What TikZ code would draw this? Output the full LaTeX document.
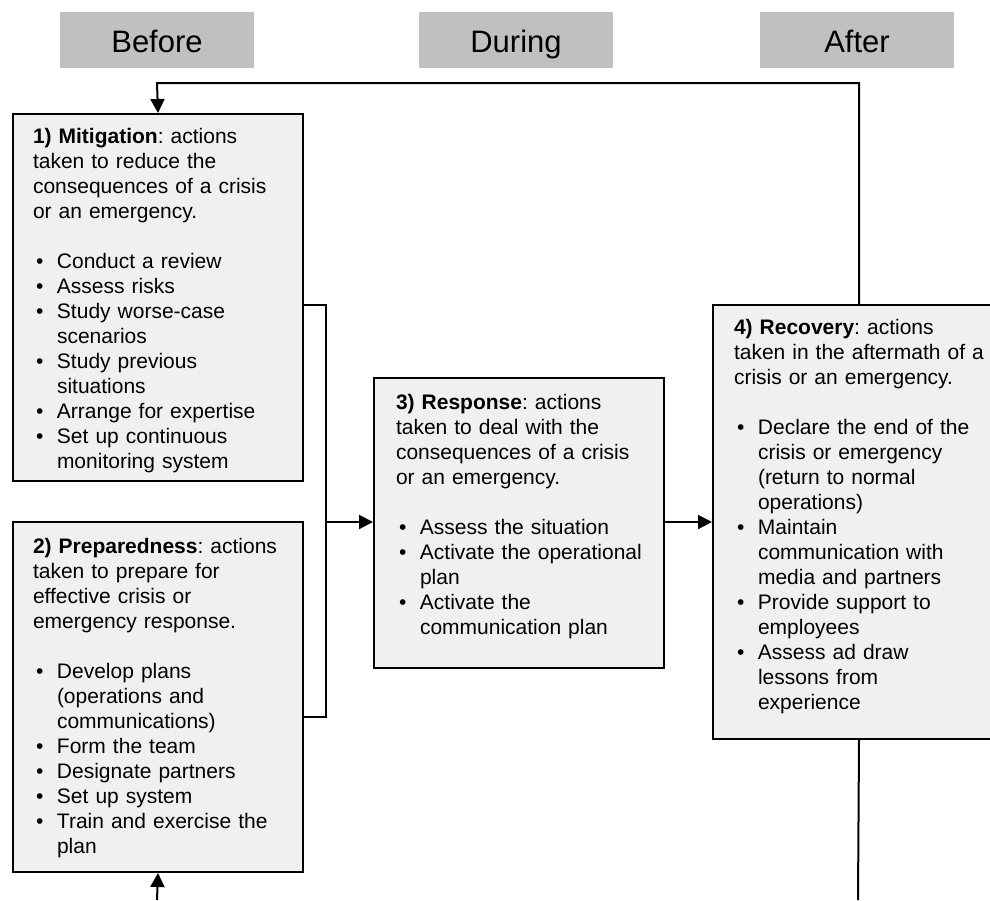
\documentclass[tikz,border=0pt]{standalone}
\usepackage{fontspec}
\setmainfont{Liberation Sans}
\usetikzlibrary{arrows.meta}
\definecolor{headgray}{RGB}{192,192,192}
\definecolor{boxgray}{RGB}{240,240,240}
\newcommand{\bul}{\makebox[12pt][l]{\hspace{1.5pt}\textbullet}}
\newcommand{\cont}{\hspace*{12pt}}
\frenchspacing

\begin{document}
\begin{tikzpicture}[x=0.5pt, y=-0.5pt,
    font=\fontsize{10.5pt}{12.5pt}\selectfont,
    phase/.style={fill=headgray, inner sep=0pt, minimum width=97pt, minimum height=28pt,
        text height=13pt, text depth=1pt, font=\fontsize{15.5pt}{18pt}\selectfont},
    stage/.style={draw, line width=1pt, fill=boxgray, anchor=north west, text width=125pt,
        align=left, inner xsep=10pt, inner ysep=0pt},
    link/.style={line width=1pt},
    flow/.style={link, -{Triangle[length=7pt,width=7pt]}}]
\useasboundingbox (0,0) rectangle (990,900);

% time headers
\node[phase] (before) at (157,40) {Before};
\node[phase] (during) at (516,40) {During};
\node[phase] (after) at (857,40) {After};

% the four stages
\node[stage, text height=14.5pt, text depth=169pt] (mit) at (12,113) {%
    \textbf{1) Mitigation}: actions\\
    taken to reduce the\\
    consequences of a crisis\\
    or an emergency.\\[12.5pt]
    \bul Conduct a review\\
    \bul Assess risks\\
    \bul Study worse-case\\
    \cont scenarios\\
    \bul Study previous\\
    \cont situations\\
    \bul Arrange for expertise\\
    \bul Set up continuous\\
    \cont monitoring system};
\node[stage, text height=15.5pt, text depth=159.5pt] (prep) at (12,521) {%
    \textbf{2) Preparedness}: actions\\
    taken to prepare for\\
    effective crisis or\\
    emergency response.\\[12.5pt]
    \bul Develop plans\\
    \cont (operations and\\
    \cont communications)\\
    \bul Form the team\\
    \bul Designate partners\\
    \bul Set up system\\
    \bul Train and exercise the\\
    \cont plan};
\node[stage, text width=123pt, inner xsep=11pt, text height=15.5pt, text depth=129.5pt] (resp) at (373,377) {%
    \textbf{3) Response}: actions\\
    taken to deal with the\\
    consequences of a crisis\\
    or an emergency.\\[12.5pt]
    \bul Assess the situation\\
    \bul Activate the operational\\
    \cont plan\\
    \bul Activate the\\
    \cont communication plan};
\node[stage, inner xsep=10.5pt, text height=14.5pt, text depth=202.5pt] (rec) at (712,304) {%
    \textbf{4) Recovery}: actions\\
    taken in the aftermath of a\\
    crisis or an emergency.\\[12.5pt]
    \bul Declare the end of the\\
    \cont crisis or emergency\\
    \cont (return to normal\\
    \cont operations)\\
    \bul Maintain\\
    \cont communication with\\
    \cont media and partners\\
    \bul Provide support to\\
    \cont employees\\
    \bul Assess ad draw\\
    \cont lessons from\\
    \cont experience};

% connectors
\coordinate (looptop) at (157,83);
\coordinate (join) at (326,522);
\coordinate (recend) at (858,900);
\coordinate (prepstart) at (157,900);
\draw[flow] (rec.north) |- (looptop) -- (mit.north);
\draw[link] ([yshift=-3.75pt]mit.east) -| (join);
\draw[link] ([yshift=-10pt]prep.east) -| (join);
\draw[flow] (join) -- (join -| resp.west);
\draw[flow] (resp.east |- join) -- (join -| rec.west);
\draw[link] (rec.south) -- (recend);
\draw[flow] (prepstart) -- (prep.south);
\end{tikzpicture}
\end{document}
